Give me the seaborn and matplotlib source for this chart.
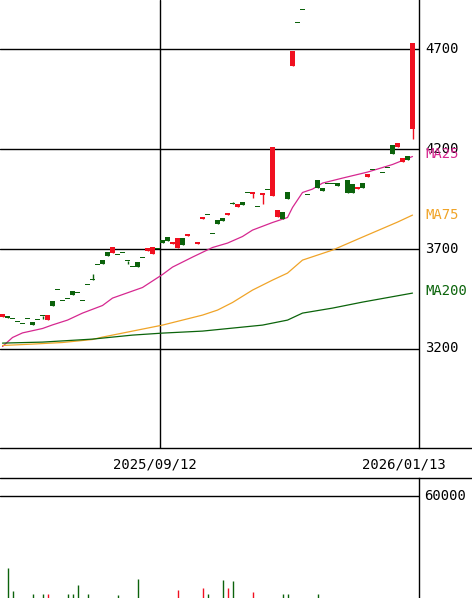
import numpy as np
import pandas as pd
import seaborn as sns
import matplotlib
matplotlib.use("Agg")
import matplotlib.pyplot as plt
from matplotlib.lines import Line2D
from matplotlib.transforms import blended_transform_factory

# one slot per session, None = no trade that day
opens = [3360, 3360, 3350, 3335, 3325, 3350, 3335, 3345, 3365, 3345,
         3440, 3495, 3440, 3450, 3490, 3480, 3440, 3520, 3545, 3620,
         3645, 3685, 3680, 3670, 3680, 3640, 3610, 3635, 3655, 3690,
         3675, 3700, 3745, 3760, 3725, 3705, 3755, 3765, None, 3725,
         3850, 3870, 3775, 3845, 3855, 3870, 3925, 3910, 3935, 3980,
         3975, 3910, 3970, 3995, 3965, 3860, 3885, 3985, 4615, 4830,
         4895, 3970, None, 4045, 4005, 4025, 4025, 4030, None, 4045,
         4025, 4000, 4030, 4060, 4095, None, 4080, 4105, 4220, 4210,
         4135, 4165, 4300]
closes = [3375, 3355, 3350, 3335, 3325, 3350, 3320, 3345, 3365, 3370,
          3415, 3495, 3440, 3450, 3470, 3480, 3440, 3520, 3545, 3620,
          3625, 3665, 3710, 3670, 3680, 3640, 3610, 3610, 3655, 3705,
          3710, 3700, 3730, 3740, 3735, 3755, 3720, 3775, None, 3735,
          3860, 3870, 3775, 3825, 3840, 3880, 3925, 3925, 3920, 3980,
          3985, 3910, 3980, 3995, 4210, 3895, 3850, 3950, 4690, 4830,
          4895, 3970, None, 4005, 3990, 4025, 4025, 4015, None, 3980,
          3980, 4010, 4005, 4075, 4095, None, 4080, 4105, 4175, 4230,
          4155, 4145, 4730]
wick_high = {18: 3575, 46: 3935}
wick_low = {8: 3350, 25: 3625, 50: 3955, 52: 3925, 82: 4250}

volumes = [5000, 25000, 14000, 4000, 3000, 5000, 12500, 3000, 12500, 12500,
           6000, 4000, 3000, 12500, 12500, 17000, 5000, 12500, 6000, 4000,
           7000, 8000, 6000, 12000, 5000, 4000, 3000, 20000, 4000, 6000,
           8000, 3000, 7000, 6000, 4000, 14500, 6000, 5000, 0, 4000,
           15500, 12500, 3000, 6000, 19500, 15500, 19000, 6000, 5000, 3000,
           13500, 4000, 6000, 3000, 9000, 5000, 12500, 12500, 8000, 3000,
           3000, 5000, 0, 12500, 6000, 3000, 3000, 5000, 0, 8000,
           7000, 4000, 6000, 5000, 3000, 0, 3000, 4000, 9000, 6000,
           5000, 4000, 10000]

# moving averages read at a handful of sessions
ma25_idx = [0, 2, 4, 8, 10, 13, 16, 20, 22, 28, 32, 34, 38, 42, 45, 48, 50,
            54, 57, 58, 60, 62, 64, 68, 73, 78, 82]
ma25_val = [3210, 3255, 3278, 3300, 3318, 3342, 3377, 3415, 3452, 3505, 3570,
            3607, 3657, 3705, 3727, 3760, 3792, 3830, 3855, 3905, 3980, 3997,
            4027, 4052, 4082, 4120, 4160]
ma75_idx = [0, 6, 12, 18, 20, 24, 28, 32, 36, 40, 43, 46, 50, 54, 57, 60, 66,
            72, 79, 82]
ma75_val = [3215, 3222, 3230, 3245, 3257, 3277, 3297, 3317, 3342, 3367, 3392,
            3430, 3492, 3542, 3577, 3642, 3692, 3757, 3832, 3867]
ma200_idx = [0, 8, 18, 26, 32, 40, 48, 52, 57, 60, 66, 72, 82]
ma200_val = [3227, 3232, 3247, 3267, 3277, 3287, 3307, 3317, 3342, 3377,
             3402, 3432, 3477]

price_ticks = [3200, 3700, 4200, 4700]
date_labels = ["2025/09/12", "2026/01/13"]
date_slots = [31.5, 83.3]
vol_tick = 60000

RED = "#f01020"
GREEN = "#0b620b"
C25 = "#d62890"
C75 = "#f0a428"
C200 = "#0b640b"

sns.set_style("white")
plt.rcParams["font.family"] = ["DejaVu Sans Mono"]

df = pd.DataFrame({"open": opens, "close": closes, "volume": volumes}, dtype=float)
df["slot"] = np.arange(len(df))
df["high"] = df[["open", "close"]].max(axis=1)
df["low"] = df[["open", "close"]].min(axis=1)
for k, v in wick_high.items():
    df.loc[k, "high"] = v
for k, v in wick_low.items():
    df.loc[k, "low"] = v
df["color"] = np.where(df["close"] > df["open"], RED, GREEN)
trade = df.dropna(subset=["open"])

W, H = 472, 598
fig = plt.figure(figsize=(W / 100, H / 100), dpi=100)

ax = fig.add_axes([0, 1 - 448 / H, 419 / W, 448 / H])
ax.set_xlim(-0.5, 83.3)
ax.set_ylim(2702.5, 4942.5)

for p in price_ticks:
    ax.axhline(p, color="black", lw=1.0, zorder=1)
ax.axvline(date_slots[0], color="black", lw=1.0, zorder=1)

body_bottom = np.where(trade["open"] == trade["close"], trade["open"] - 3,
                       trade[["open", "close"]].min(axis=1))
body_h = np.maximum((trade["close"] - trade["open"]).abs(), 6)
ax.vlines(trade["slot"], trade["low"], trade["high"], colors=trade["color"], lw=1.0, zorder=3)
ax.bar(trade["slot"], body_h, bottom=body_bottom, width=0.9, color=trade["color"],
       linewidth=0, zorder=4)

for idx, val, col in [(ma25_idx, ma25_val, C25), (ma75_idx, ma75_val, C75),
                      (ma200_idx, ma200_val, C200)]:
    sns.lineplot(x=idx, y=val, color=col, lw=0.9, ax=ax, zorder=2)

for s in ["top", "left", "bottom"]:
    ax.spines[s].set_visible(False)
ax.spines["right"].set_color("black")
ax.spines["right"].set_linewidth(1.0)
ax.set_xticks([])
ax.set_yticks([])
ax.set_xlabel("")
ax.set_ylabel("")

tr = blended_transform_factory(ax.transAxes, ax.transData)
for p in price_ticks:
    ax.text(1.015, p, str(p), transform=tr, ha="left", va="center", fontsize=10, color="black")
for name, val, col in [("MA25", ma25_val[-1] + 15, C25), ("MA75", ma75_val[-1], C75),
                       ("MA200", ma200_val[-1] + 12, C200)]:
    ax.text(1.015, val, name, transform=tr, ha="left", va="center", fontsize=10, color=col)

# volume panel, runs past the bottom edge of the picture
vax = fig.add_axes([0, 1 - 620 / H, 419 / W, 142 / H])
vax.set_xlim(-0.5, 83.3)
vax.set_ylim(0, 68700)
vax.axhline(vol_tick, color="black", lw=1.0)
vax.vlines(df["slot"], 0, df["volume"], colors=df["color"], lw=1.0)
for s in ["top", "left", "bottom"]:
    vax.spines[s].set_visible(False)
vax.spines["right"].set_color("black")
vax.spines["right"].set_linewidth(1.0)
vax.set_xticks([])
vax.set_yticks([])
vtr = blended_transform_factory(vax.transAxes, vax.transData)
vax.text(1.012, vol_tick, str(vol_tick), transform=vtr, ha="left", va="center",
         fontsize=10, color="black")

for y in [448, 478]:
    fig.add_artist(Line2D([0, 1], [1 - y / H, 1 - y / H], transform=fig.transFigure,
                          color="black", lw=1.0))
for lab, xc in zip(date_labels, [155, 404]):
    fig.text(xc / W, 1 - 464 / H, lab, ha="center", va="center", fontsize=10, color="black")

fig.savefig("out.png", dpi=100)
